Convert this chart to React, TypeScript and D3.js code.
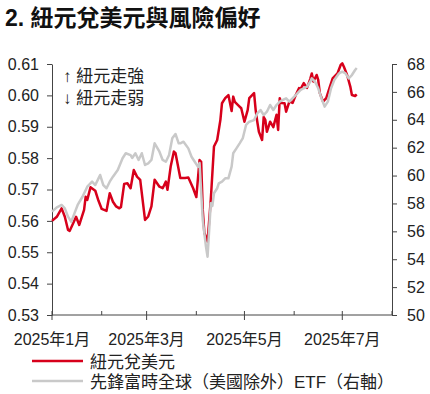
import { useEffect, useRef } from 'react'
import * as d3 from 'd3'

const title = '2. 紐元兌美元與風險偏好'
const noteUp = '↑ 紐元走強'
const noteDown = '↓ 紐元走弱'
const legendNames = ['紐元兌美元', '先鋒富時全球（美國除外）ETF（右軸）']

// NZD/USD (left axis)
const nzdDates = [
  '01-01', '01-04', '01-07', '01-09', '01-11', '01-12', '01-14', '01-16', '01-18', '01-21',
  '01-22', '01-23', '01-25', '01-28', '01-30', '02-01', '02-04', '02-06', '02-08', '02-10',
  '02-12', '02-13', '02-15', '02-17', '02-19', '02-21', '02-23', '02-25', '02-28', '03-02',
  '03-04', '03-06', '03-09', '03-11', '03-13', '03-14', '03-16', '03-18', '03-19', '03-22',
  '03-25', '03-27', '03-30', '04-01', '04-03', '04-04', '04-05', '04-06', '04-08', '04-10',
  '04-12', '04-14', '04-16', '04-17', '04-19', '04-21', '04-23', '04-24', '04-25', '04-27',
  '04-29', '05-01', '05-03', '05-04', '05-07', '05-08', '05-09', '05-10', '05-12', '05-13',
  '05-14', '05-15', '05-17', '05-19', '05-21', '05-22', '05-23', '05-24', '05-26', '05-27',
  '05-29', '05-31', '06-02', '06-04', '06-05', '06-07', '06-09', '06-11', '06-12', '06-13',
  '06-15', '06-16', '06-17', '06-19', '06-21', '06-23', '06-25', '06-28', '06-30', '07-01',
  '07-02', '07-04', '07-06', '07-07', '07-09', '07-10'
]
const nzdValues = [
  0.5600, 0.5613, 0.5640, 0.5613, 0.5571, 0.5568, 0.5590, 0.5613, 0.5587, 0.5635,
  0.5677, 0.5667, 0.5707, 0.5696, 0.5664, 0.5638, 0.5632, 0.5688, 0.5661, 0.5646,
  0.5640, 0.5644, 0.5718, 0.5720, 0.5704, 0.5762, 0.5741, 0.5731, 0.5603, 0.5614,
  0.5646, 0.5731, 0.5709, 0.5704, 0.5725, 0.5699, 0.5773, 0.5821, 0.5816, 0.5737,
  0.5737, 0.5738, 0.5704, 0.5676, 0.5794, 0.5788, 0.5635, 0.5562, 0.5534, 0.5667,
  0.5837, 0.5858, 0.5922, 0.5975, 0.5991, 0.6001, 0.5950, 0.5996, 0.5979, 0.5969,
  0.5959, 0.5916, 0.5953, 0.5991, 0.6007, 0.5953, 0.5916, 0.5884, 0.5858, 0.5931,
  0.5922, 0.5884, 0.5916, 0.5899, 0.5938, 0.5890, 0.5991, 0.5976, 0.5975, 0.5948,
  0.5980, 0.5976, 0.6001, 0.6023, 0.6020, 0.6039, 0.6024, 0.6052, 0.6070, 0.6044,
  0.6065, 0.6049, 0.6007, 0.5980, 0.5991, 0.6023, 0.6054, 0.6070, 0.6097, 0.6102,
  0.6091, 0.6065, 0.6028, 0.6001, 0.5998, 0.6003
]

// Vanguard FTSE All-World ex-US ETF (right axis)
const etfDates = [
  '01-01', '01-04', '01-07', '01-09', '01-11', '01-13', '01-15', '01-17', '01-20', '01-23',
  '01-26', '01-28', '01-30', '01-31', '02-02', '02-04', '02-06', '02-08', '02-11', '02-14',
  '02-16', '02-19', '02-20', '02-22', '02-24', '02-26', '02-28', '03-02', '03-04', '03-06',
  '03-09', '03-11', '03-13', '03-15', '03-17', '03-19', '03-21', '03-22', '03-24', '03-27',
  '03-29', '03-31', '04-02', '04-03', '04-05', '04-07', '04-08', '04-10', '04-11', '04-12',
  '04-14', '04-15', '04-17', '04-19', '04-21', '04-23', '04-24', '04-26', '04-28', '04-30',
  '05-02', '05-04', '05-07', '05-09', '05-11', '05-13', '05-15', '05-17', '05-19', '05-21',
  '05-23', '05-25', '05-27', '05-29', '05-31', '06-03', '06-05', '06-07', '06-09', '06-11',
  '06-12', '06-14', '06-16', '06-18', '06-20', '06-22', '06-24', '06-26', '06-29', '07-01',
  '07-03', '07-05', '07-07', '07-09', '07-10'
]
const etfValues = [
  57.41, 57.72, 57.89, 57.65, 57.05, 56.69, 57.29, 57.89, 58.48, 59.20,
  59.56, 59.32, 59.80, 60.04, 59.32, 59.09, 59.56, 59.92, 60.40, 61.24,
  61.60, 61.47, 61.26, 61.60, 61.12, 61.60, 60.76, 60.88, 61.12, 62.31,
  61.71, 61.12, 60.99, 61.47, 62.67, 62.98, 62.31, 62.31, 62.43, 61.95,
  61.35, 60.99, 60.64, 60.90, 56.81, 54.90, 54.18, 58.01, 57.82, 58.73,
  59.09, 59.44, 59.56, 59.80, 59.80, 60.64, 61.60, 61.95, 62.31, 62.69,
  63.63, 63.86, 63.98, 64.46, 64.70, 64.34, 64.58, 65.06, 64.70, 65.06,
  65.30, 65.42, 65.54, 65.30, 65.54, 65.90, 66.14, 66.26, 66.37, 66.73,
  66.97, 66.73, 66.26, 65.54, 64.94, 65.30, 66.26, 66.85, 67.33, 67.45,
  67.33, 66.97, 67.21, 67.57, 67.71
]

const leftTicks = [0.53, 0.54, 0.55, 0.56, 0.57, 0.58, 0.59, 0.60, 0.61]
const rightTicks = [50, 52, 54, 56, 58, 60, 62, 64, 66, 68]
const monthTicks = ['01-01', '02-01', '03-01', '04-01', '05-01', '06-01', '07-01', '08-01']
const monthLabels = ['2025年1月', '', '2025年3月', '', '2025年5月', '', '2025年7月', '']

const FONT = "'Liberation Sans', Arial, 'Noto Sans CJK TC', sans-serif"
const RED = '#d7001b'
const GREY = '#c9c9c9'
const AXIS = '#444444'

export default function App() {
  const ref = useRef<SVGSVGElement | null>(null)

  useEffect(() => {
    if (!ref.current) return
    const svg = d3.select(ref.current)
    svg.selectAll('*').remove()

    const width = 430
    const height = 394
    const margin = { top: 64, right: 38, bottom: 79, left: 52 }
    const parse = d3.timeParse('%Y-%m-%d')
    const toDate = (s: string) => parse('2025-' + s) as Date

    const x = d3.scaleTime()
      .domain([toDate('01-01'), toDate('08-01')])
      .range([margin.left, width - margin.right])
    const yL = d3.scaleLinear().domain([0.53, 0.61]).range([height - margin.bottom, margin.top])
    const yR = d3.scaleLinear().domain([50, 68]).range([height - margin.bottom, margin.top])

    // title
    svg.append('text')
      .attr('x', 5).attr('y', 26)
      .attr('font-family', FONT).attr('font-size', 23).attr('font-weight', 'bold')
      .attr('fill', '#111').text(title)

    // left axis
    const left = svg.append('g')
      .attr('transform', `translate(${margin.left},0)`)
      .call(d3.axisLeft(yL).tickValues(leftTicks).tickFormat(d3.format('.2f')).tickSize(5).tickSizeOuter(0).tickPadding(8))
    left.select('.domain').attr('stroke', AXIS)
    left.selectAll('.tick line').attr('stroke', AXIS)
    left.selectAll('text').attr('font-family', FONT).attr('font-size', 16).attr('fill', '#222')

    // right axis
    const right = svg.append('g')
      .attr('transform', `translate(${width - margin.right},0)`)
      .call(d3.axisRight(yR).tickValues(rightTicks).tickSize(5).tickSizeOuter(0).tickPadding(10))
    right.select('.domain').attr('stroke', AXIS)
    right.selectAll('.tick line').attr('stroke', AXIS)
    right.selectAll('text').attr('font-family', FONT).attr('font-size', 16).attr('fill', '#222')

    // bottom axis
    const base = height - margin.bottom
    svg.append('line')
      .attr('x1', margin.left).attr('x2', width - margin.right)
      .attr('y1', base).attr('y2', base)
      .attr('stroke', AXIS)
    monthTicks.forEach((m, i) => {
      const px = x(toDate(m))
      const major = monthLabels[i] !== ''
      svg.append('line')
        .attr('x1', px).attr('x2', px)
        .attr('y1', base - 4).attr('y2', major ? base + 5 : base)
        .attr('stroke', AXIS)
      if (major) {
        svg.append('text')
          .attr('x', px).attr('y', base + 30)
          .attr('text-anchor', 'middle')
          .attr('font-family', FONT).attr('font-size', 16).attr('fill', '#222')
          .text(monthLabels[i])
      }
    })

    // notes
    svg.append('text').attr('x', 63).attr('y', 82)
      .attr('font-family', FONT).attr('font-size', 17).attr('fill', '#222').text(noteUp)
    svg.append('text').attr('x', 63).attr('y', 104)
      .attr('font-family', FONT).attr('font-size', 17).attr('fill', '#222').text(noteDown)

    // lines
    const nzd = nzdDates.map((d, i) => ({ date: toDate(d), value: nzdValues[i] }))
    const etf = etfDates.map((d, i) => ({ date: toDate(d), value: etfValues[i] }))

    const lineL = d3.line<{ date: Date; value: number }>().x(d => x(d.date)).y(d => yL(d.value))
    const lineR = d3.line<{ date: Date; value: number }>().x(d => x(d.date)).y(d => yR(d.value))

    svg.append('path').datum(nzd)
      .attr('fill', 'none').attr('stroke', RED).attr('stroke-width', 2.5)
      .attr('stroke-linejoin', 'round').attr('d', lineL)
    svg.append('path').datum(etf)
      .attr('fill', 'none').attr('stroke', GREY).attr('stroke-width', 2.5)
      .attr('stroke-linejoin', 'round').attr('d', lineR)

    // legend
    const legendColors = [RED, GREY]
    legendNames.forEach((name, i) => {
      const ly = 361 + i * 20
      svg.append('line')
        .attr('x1', 32).attr('x2', 83).attr('y1', ly).attr('y2', ly)
        .attr('stroke', legendColors[i]).attr('stroke-width', 2.5)
      svg.append('text')
        .attr('x', 90).attr('y', ly + 6.5)
        .attr('font-family', FONT).attr('font-size', 17).attr('fill', '#222')
        .text(name)
    })

    svg.attr('width', width).attr('height', height)
  }, [])

  return (
    <svg
      ref={ref}
      style={{ position: 'absolute', left: 0, top: 0, background: '#fff' }}
    />
  )
}
